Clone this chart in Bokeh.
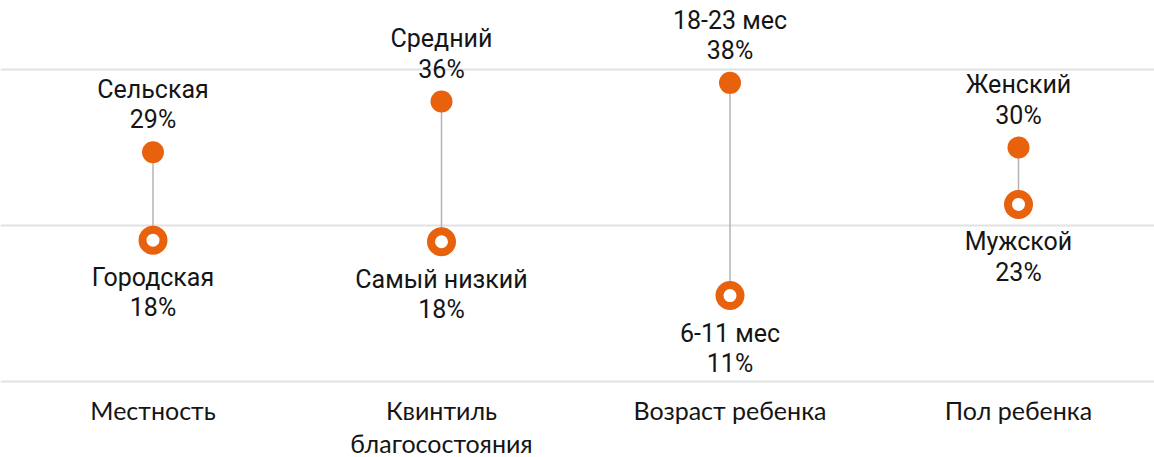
from bokeh.plotting import figure
from bokeh.models import Range1d, ColumnDataSource, FixedTicker
from bokeh.core.properties import value
from bokeh.embed import file_html
from bokeh.resources import INLINE

categories = ["Местность", "Квинтиль\nблагосостояния", "Возраст ребенка", "Пол ребенка"]
high_labels = ["Сельская", "Средний", "18-23 мес", "Женский"]
high_values = [29.4, 35.9, 38.3, 30.0]
low_labels = ["Городская", "Самый низкий", "6-11 мес", "Мужской"]
low_values = [18.1, 17.9, 11.0, 22.7]
grid_ticks = [0, 20, 40]

ORANGE = "#E8620E"
xs = list(range(len(categories)))

src = ColumnDataSource(dict(
    x=xs,
    hi=high_values,
    lo=low_values,
    hi_txt=[f"{n}\n{round(v)}%" for n, v in zip(high_labels, high_values)],
    lo_txt=[f"{n}\n{round(v)}%" for n, v in zip(low_labels, low_values)],
    cat=categories,
    cat_y=[-1.72] * len(categories),
))

p = figure(width=1154, height=457, output_backend="svg", toolbar_location=None,
           x_range=Range1d(-0.5286, 3.4714), y_range=Range1d(-9.79, 48.87),
           min_border=0, outline_line_color=None)
p.xaxis.visible = False
p.yaxis.visible = False
p.xgrid.visible = False
p.ygrid.ticker = FixedTicker(ticks=grid_ticks)
p.ygrid.grid_line_color = "#e2e2e2"
p.ygrid.grid_line_width = 2
p.background_fill_color = "white"
p.border_fill_color = "white"

p.segment(x0="x", y0="lo", x1="x", y1="hi", source=src, line_color="#b5b5b5", line_width=1.5)
p.scatter(x="x", y="hi", source=src, size=22, fill_color=ORANGE, line_color=None)
p.scatter(x="x", y="lo", source=src, size=21, fill_color="white", line_color=ORANGE, line_width=8)

common = dict(text_font=value("Roboto"), text_font_size="25px", text_color="#151515",
              text_align="center", text_line_height=1.04)
p.text(x="x", y="hi", text="hi_txt", source=src, text_baseline="bottom", y_offset=-18, **common)
p.text(x="x", y="lo", text="lo_txt", source=src, text_baseline="top", y_offset=23, **common)
p.text(x="x", y="cat_y", text="cat", source=src, text_baseline="top",
       text_font=value("Lato"), text_font_size="25px", text_color="#151515",
       text_align="center", text_line_height=1.12)

open("out.html", "w").write(file_html(p, INLINE))
